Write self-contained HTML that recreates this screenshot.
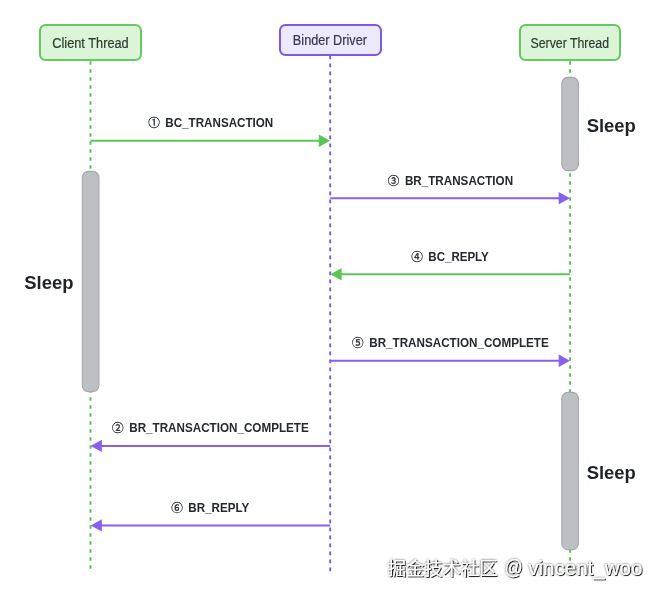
<!DOCTYPE html>
<html>
<head>
<meta charset="utf-8">
<title>Binder sequence</title>
<style>
html,body{margin:0;padding:0;background:#fff;}
body{width:660px;height:596px;position:relative;overflow:hidden;font-family:"Liberation Sans",sans-serif;color:#1f2328;}
svg.g{position:absolute;left:0;top:0;transform:translateZ(0);}
.box{position:absolute;box-sizing:border-box;border:2px solid;border-radius:6.5px;}
.box.gr{border-color:#66c95f;background:#dcf5d9;}
.box.pu{border-color:#8059e0;background:#ede9fe;}
.hd{position:absolute;-webkit-text-stroke:0.2px;font-size:14px;line-height:16px;white-space:nowrap;transform-origin:0 0;}
.lbl{position:absolute;font-weight:bold;font-size:12.4px;white-space:nowrap;line-height:14px;transform-origin:0 0;color:#24292f;}
.sleep{position:absolute;font-weight:bold;font-size:19px;line-height:22px;white-space:nowrap;transform-origin:0 0;transform:scaleX(0.962);color:#1f2328;}
.wm{position:absolute;color:#fff;white-space:nowrap;transform-origin:0 0;opacity:.99;text-shadow:1px 1px .6px rgba(0,0,0,.8),0 0 1.4px rgba(0,0,0,.5);}
</style>
</head>
<body>
<svg class="g" width="660" height="596" viewBox="0 0 660 596">
  <!-- lifelines -->
  <g fill="none" stroke-width="1.9" stroke-dasharray="3.6 4.4">
    <line x1="90.5" y1="61.2" x2="90.5" y2="569" stroke="#55bf4f"/>
    <line x1="330.2" y1="55.6" x2="330.2" y2="571.3" stroke="#7659d8"/>
    <line x1="570.1" y1="61.2" x2="570.1" y2="569" stroke="#55bf4f"/>
  </g>
  <!-- activation bars -->
  <g fill="#bcbfc4" stroke="#a4a7ac" stroke-width="1.1">
    <rect x="82.3" y="171.4" width="16.6" height="220.2" rx="6"/>
    <rect x="561.8" y="77.4" width="16.6" height="93.2" rx="6"/>
    <rect x="561.8" y="392.4" width="16.6" height="157.2" rx="6"/>
  </g>
  <!-- arrows -->
  <g stroke-width="2" fill="none">
    <line x1="90.5" y1="140.8" x2="322.1" y2="140.8" stroke="#5cc655"/>
<line x1="330.2" y1="198.15" x2="562.0" y2="198.15" stroke="#895ff0"/>
<line x1="570.1" y1="274.2" x2="338.3" y2="274.2" stroke="#5cc655"/>
<line x1="330.2" y1="360.75" x2="562.0" y2="360.75" stroke="#895ff0"/>
<line x1="330.2" y1="445.9" x2="98.6" y2="445.9" stroke="#895ff0"/>
<line x1="330.2" y1="525.4" x2="98.6" y2="525.4" stroke="#895ff0"/>
  </g>
  <g stroke="none">
    <polygon points="330.1,140.8 318.8,134.6 318.8,147.0" fill="#5cc655"/>
<polygon points="570.0,198.15 558.7,192.0 558.7,204.3" fill="#895ff0"/>
<polygon points="330.3,274.2 341.6,268.0 341.6,280.4" fill="#5cc655"/>
<polygon points="570.0,360.75 558.7,354.6 558.7,366.9" fill="#895ff0"/>
<polygon points="90.6,445.9 101.9,439.7 101.9,452.1" fill="#895ff0"/>
<polygon points="90.6,525.4 101.9,519.2 101.9,531.6" fill="#895ff0"/>
  </g>
  <!-- circled step numbers -->
  <g fill="#24292f" stroke="#24292f" stroke-width="0.26" font-family="'Liberation Sans','Noto Sans CJK SC',sans-serif" font-size="11.65">
    <text x="148.17" y="126.97">①</text>
    <text x="387.77" y="184.97">③</text>
    <text x="411.17" y="260.97">④</text>
    <text x="352.07" y="347.07">⑤</text>
    <text x="112.07" y="432.07">②</text>
    <text x="171.17" y="511.97">⑥</text>
  </g>
</svg>

<div class="box gr" style="left:39.2px;top:23.9px;width:102.8px;height:37.4px;"></div>
<div class="box pu" style="left:279.2px;top:23.9px;width:102.4px;height:31.8px;"></div>
<div class="box gr" style="left:519.1px;top:23.9px;width:101.9px;height:37.4px;"></div>
<svg class="g" width="660" height="596" viewBox="0 0 660 596" font-family="Liberation Sans, sans-serif">
  <g><text x="52.25" y="48.00" font-size="14" fill="#2c3a30" textLength="76.47" lengthAdjust="spacingAndGlyphs" stroke="#2c3a30" stroke-width="0.2">Client Thread</text>
<text x="292.86" y="45.00" font-size="14" fill="#393550" textLength="74.15" lengthAdjust="spacingAndGlyphs" stroke="#393550" stroke-width="0.2">Binder Driver</text>
<text x="530.54" y="48.00" font-size="14" fill="#2c3a30" textLength="78.45" lengthAdjust="spacingAndGlyphs" stroke="#2c3a30" stroke-width="0.2">Server Thread</text></g>
  <g><text x="165.32" y="126.90" font-size="12.4" font-weight="bold" fill="#24292f" textLength="107.96" lengthAdjust="spacingAndGlyphs">BC_TRANSACTION</text>
<text x="404.92" y="184.90" font-size="12.4" font-weight="bold" fill="#24292f" textLength="108.17" lengthAdjust="spacingAndGlyphs">BR_TRANSACTION</text>
<text x="428.34" y="260.90" font-size="12.4" font-weight="bold" fill="#24292f" textLength="60.44" lengthAdjust="spacingAndGlyphs">BC_REPLY</text>
<text x="369.22" y="347.00" font-size="12.4" font-weight="bold" fill="#24292f" textLength="179.54" lengthAdjust="spacingAndGlyphs">BR_TRANSACTION_COMPLETE</text>
<text x="129.22" y="432.00" font-size="12.4" font-weight="bold" fill="#24292f" textLength="179.54" lengthAdjust="spacingAndGlyphs">BR_TRANSACTION_COMPLETE</text>
<text x="188.34" y="511.90" font-size="12.4" font-weight="bold" fill="#24292f" textLength="60.95" lengthAdjust="spacingAndGlyphs">BR_REPLY</text></g>
  <g><text x="586.67" y="131.50" font-size="19" font-weight="bold" fill="#1f2328" textLength="49.19" lengthAdjust="spacingAndGlyphs">Sleep</text>
<text x="24.27" y="288.70" font-size="19" font-weight="bold" fill="#1f2328" textLength="49.19" lengthAdjust="spacingAndGlyphs">Sleep</text>
<text x="586.67" y="478.90" font-size="19" font-weight="bold" fill="#1f2328" textLength="49.19" lengthAdjust="spacingAndGlyphs">Sleep</text></g>
</svg>

<!-- watermark -->
<svg class="g" width="660" height="596" viewBox="0 0 660 596">
  <defs>
    <filter id="sh" x="-5%" y="-30%" width="110%" height="160%">
      <feGaussianBlur in="SourceAlpha" stdDeviation="0.45" result="b1"/>
      <feOffset in="b1" dx="1" dy="1" result="o1"/>
      <feComponentTransfer in="o1" result="s1"><feFuncA type="linear" slope="0.8"/></feComponentTransfer>
      <feGaussianBlur in="SourceAlpha" stdDeviation="0.8" result="b2"/>
      <feComponentTransfer in="b2" result="s2"><feFuncA type="linear" slope="0.8"/></feComponentTransfer>
      <feMerge><feMergeNode in="s1"/><feMergeNode in="s2"/><feMergeNode in="SourceGraphic"/></feMerge>
    </filter>
  </defs>
  <text x="387.7" y="575.0" font-size="18.3" fill="#fff" textLength="109.8" lengthAdjust="spacingAndGlyphs" filter="url(#sh)" font-family="'Liberation Sans','Noto Sans CJK SC',sans-serif">掘金技术社区</text>
  <g font-family="Liberation Sans, sans-serif"><text x="504.59" y="574.30" font-size="20" fill="#fff" textLength="18.27" lengthAdjust="spacingAndGlyphs" filter="url(#sh)">@</text><text x="528.23" y="575.00" font-size="20" fill="#fff" textLength="114.23" lengthAdjust="spacingAndGlyphs" filter="url(#sh)">vincent_woo</text></g>
</svg>

</body>
</html>
